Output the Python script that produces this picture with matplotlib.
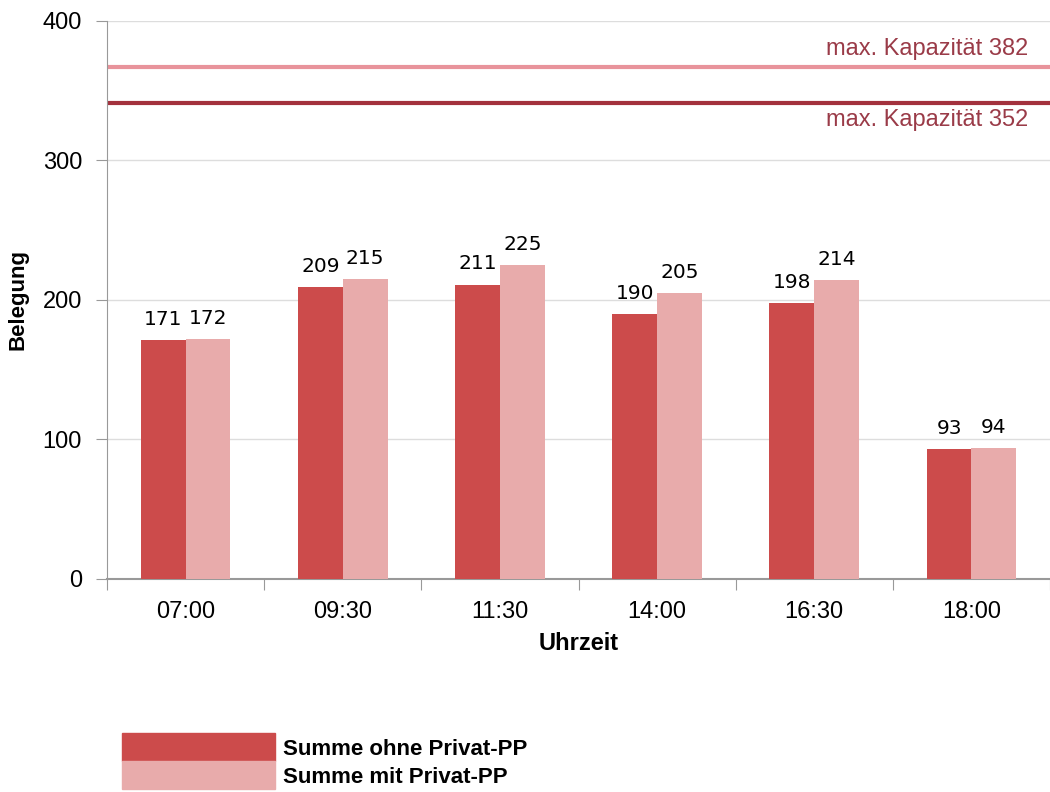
import numpy as np
import matplotlib.pyplot as plt
from matplotlib.patches import Patch

times = ['07:00', '09:30', '11:30', '14:00', '16:30', '18:00']
ohne_privat = [171, 209, 211, 190, 198, 93]
mit_privat = [172, 215, 225, 205, 214, 94]
cap_levels = [367, 341]
cap_labels = ['max. Kapazität 382', 'max. Kapazität 352']

dark = '#cc4b4b'
light = '#e8abab'
cap_colors = ['#e8939b', '#a3313d']
text_red = '#9a3b48'

plt.rcParams['font.family'] = ['Liberation Sans', 'DejaVu Sans']

fig = plt.figure(figsize=(10.5, 7.92), dpi=100)
ax = fig.add_axes([0.102, 0.269, 0.898, 0.7045])

x = np.arange(len(times))
w = 0.285
b1 = ax.bar(x - w / 2, ohne_privat, w, color=dark, zorder=3)
b2 = ax.bar(x + w / 2, mit_privat, w, color=light, zorder=3)

for bars, vals in [(b1, ohne_privat), (b2, mit_privat)]:
    for r, v in zip(bars, vals):
        ax.text(r.get_x() + r.get_width() / 2, v + 8, str(v), ha='center', va='bottom',
                fontsize=14.5, family='DejaVu Sans', color='black', zorder=4)

for lvl, lab, c in zip(cap_levels, cap_labels, cap_colors):
    ax.axhline(lvl, color=c, lw=3, zorder=2)
# labels: upper above its line, lower below its line
ax.text(0.977, cap_levels[0] + 5, cap_labels[0], transform=ax.get_yaxis_transform(),
        ha='right', va='bottom', fontsize=17, color=text_red)
ax.text(0.977, cap_levels[1] - 4, cap_labels[1], transform=ax.get_yaxis_transform(),
        ha='right', va='top', fontsize=17, color=text_red)

ax.set_ylim(0, 400)
ax.set_xlim(-0.5, 5.468)
ax.set_yticks([0, 100, 200, 300, 400])
ax.yaxis.grid(True, color='#dddddd', lw=1, zorder=0)

ax.set_xticks(np.arange(-0.5, 6, 1.0))
ax.set_xticklabels([])
ax.set_xticks(x, minor=True)
ax.set_xticklabels(times, minor=True)
ax.tick_params(axis='x', which='major', length=8, color='#999999', direction='out')
ax.tick_params(axis='x', which='minor', length=0, pad=16, labelsize=17)
ax.tick_params(axis='y', length=8, color='#999999', pad=10, labelsize=17)

for s in ['top', 'right']:
    ax.spines[s].set_visible(False)
ax.spines['left'].set_color('#999999')
ax.spines['bottom'].set_color('#999999')
ax.spines['bottom'].set_linewidth(1.5)

ax.set_ylabel('Belegung', fontsize=16, fontweight='bold', labelpad=10)
ax.set_xlabel('Uhrzeit', fontsize=17, fontweight='bold', labelpad=6)

handles = [Patch(color=dark), Patch(color=light)]
fig.legend(handles, ['Summe ohne Privat-PP', 'Summe mit Privat-PP'],
           loc='lower left', bbox_to_anchor=(0.101, -0.016), frameon=False,
           handlelength=6.9, handleheight=1.55, labelspacing=0.0, handletextpad=0.35,
           borderpad=0.2, prop={'weight': 'bold', 'size': 16})

fig.savefig('out.png', dpi=100)
